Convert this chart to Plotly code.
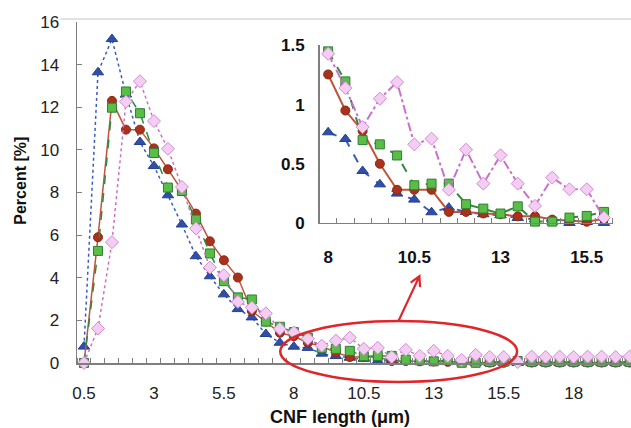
import math
import plotly.graph_objects as go

# ---------------- data ----------------
lengths = [0.5 + 0.5 * i for i in range(40)]  # CNF length categories (0.5 .. 20 µm)

blue_vals = [0.77, 13.64, 15.2, 12.6, 10.37, 9.24, 7.87, 6.5, 5.01, 4.07,
             3.22, 2.53, 2.14, 1.36, 0.95, 0.766, 0.709, 0.439, 0.326, 0.248,
             0.197, 0.09, 0.129, 0.093, 0.073, 0.065, 0.042, 0.03, 0.011, 0.0,
             0.008, 0.0, 0.0, 0.0, 0.0, 0.0, 0.0, 0.0, 0.0, 0.0]
red_vals = [0.0, 5.9, 12.3, 10.95, 10.95, 10.07, 9.09, 8.1, 7.01, 5.71,
            4.82, 4.01, 2.44, 1.95, 1.42, 1.255, 0.95, 0.777, 0.50, 0.28,
            0.28, 0.28, 0.093, 0.093, 0.08, 0.073, 0.056, 0.056, 0.028, 0.02,
            0.01, 0.036, 0.02, 0.02, 0.02, 0.02, 0.02, 0.02, 0.02, 0.02]
green_vals = [0.0, 5.26, 11.98, 12.74, 11.72, 9.85, 8.23, 8.07, 6.73, 5.14,
              3.84, 3.08, 2.98, 1.94, 1.70, 1.45, 1.196, 0.70, 0.664, 0.57,
              0.318, 0.332, 0.332, 0.158, 0.121, 0.079, 0.14, 0.011, 0.011, 0.045,
              0.059, 0.093, 0.05, 0.05, 0.05, 0.05, 0.05, 0.05, 0.05, 0.05]
pink_vals = [0.0, 1.62, 5.67, 12.26, 13.22, 11.35, 10.05, 8.26, 6.31, 4.48,
             4.12, 2.87, 2.6, 2.33, 1.6, 1.43, 1.14, 0.81, 1.05, 1.19,
             0.664, 0.712, 0.281, 0.619, 0.332, 0.571, 0.332, 0.144, 0.383, 0.284,
             0.284, 0.045, 0.3, 0.28, 0.3, 0.28, 0.3, 0.3, 0.28, 0.3]

main_ticks = [0.5, 3, 5.5, 8, 10.5, 13, 15.5, 18]
inset_ticks = [8, 10.5, 13, 15.5]
inset_yticks = [0, 0.5, 1, 1.5]
inset_lo, inset_hi = 8, 16

# ---------------- geometry helpers ----------------
W, H = 631, 428
ML, MR, MT, MB = 76.6, 0, 21.5, 65
PW = W - ML - MR
PH = H - MT - MB
PX_PER_UNIT = 28.0


def pxx(px):
    return (px - ML) / PW


def pxy(py):
    return (H - MB - py) / PH


FONT = "Liberation Sans, Arial, sans-serif"

series = [
    dict(name="blue", y=blue_vals, line="#3A5BC0",
         dash_main="dot", dash_inset="dash", symbol="triangle-up", size=10,
         fill="#2F4FA8", border="#24408F"),
    dict(name="red", y=red_vals, line="#C0553A",
         dash_main="solid", dash_inset="solid", symbol="circle", size=9,
         fill="#A8321C", border="#8E2812"),
    dict(name="green", y=green_vals, line="#2E8A3C",
         dash_main="dash", dash_inset="dash", symbol="square", size=9,
         fill="#59BE47", border="#2E7D32"),
    dict(name="pink", y=pink_vals, line="#CC6FCC",
         dash_main="dot", dash_inset="dashdot", symbol="diamond", size=10,
         fill="#F4CDF2", border="#D48AD4"),
]

fig = go.Figure()

for s in series:
    fig.add_trace(go.Scatter(
        x=lengths, y=s["y"], mode="lines+markers", name=s["name"],
        line=dict(color=s["line"], width=1.5, dash=s["dash_main"]),
        marker=dict(symbol=s["symbol"], size=s["size"], color=s["fill"],
                    line=dict(color=s["border"], width=1)),
        cliponaxis=False, showlegend=False, xaxis="x", yaxis="y"))

for s in series:
    xs = [x for x in lengths if inset_lo <= x <= inset_hi]
    ys = [v for x, v in zip(lengths, s["y"]) if inset_lo <= x <= inset_hi]
    fig.add_trace(go.Scatter(
        x=xs, y=ys, mode="lines+markers", name=s["name"],
        line=dict(color=s["line"], width=2, dash=s["dash_inset"]),
        marker=dict(symbol=s["symbol"], size=s["size"], color=s["fill"],
                    line=dict(color=s["border"], width=1)),
        cliponaxis=False, showlegend=False, xaxis="x2", yaxis="y2"))

axis_col = "#7f7f7f"

# inset geometry (pixels)
ix0, ix1 = 319.3, 612.6
iy0, iy1 = 222.7, 45.0
inset_range = [7.75, 7.75 + (ix1 - ix0) / 34.5]

fig.update_layout(
    width=W, height=H,
    margin=dict(l=ML, r=MR, t=MT, b=MB, pad=0),
    paper_bgcolor="white", plot_bgcolor="white",
    font=dict(family=FONT, color="#222"),
    xaxis=dict(range=[0.25, 0.25 + PW / PX_PER_UNIT],
               tickmode="array", tickvals=main_ticks,
               ticktext=[str(t) for t in main_ticks],
               ticks="", showline=True, linecolor=axis_col, linewidth=1.5,
               showgrid=False, zeroline=False,
               tickfont=dict(size=17, color="#222"),
               ticklabelstandoff=14,
               minor=dict(ticks="inside", ticklen=5, tickcolor=axis_col,
                          tickwidth=1, tickmode="linear", tick0=0.25, dtick=0.5,
                          showgrid=False)),
    yaxis=dict(range=[0, 16], tickmode="linear", tick0=0, dtick=2,
               ticks="inside", ticklen=5, tickcolor=axis_col,
               showline=True, linecolor=axis_col, linewidth=1.5,
               showgrid=False, zeroline=False,
               tickfont=dict(size=17, color="#222"),
               ticklabelstandoff=13),
    xaxis2=dict(domain=[pxx(ix0), pxx(ix1)], anchor="y2",
                range=inset_range, tickmode="array", tickvals=inset_ticks,
                ticktext=[str(t) for t in inset_ticks],
                ticks="", showline=True, linecolor=axis_col, linewidth=1.5,
                showgrid=False, zeroline=False,
                tickfont=dict(size=17, color="#111", weight="bold"),
                ticklabelstandoff=18,
                minor=dict(ticks="inside", ticklen=5, tickcolor=axis_col,
                           tickwidth=1, tickmode="linear", tick0=7.75, dtick=0.5,
                           showgrid=False)),
    yaxis2=dict(domain=[pxy(iy0), pxy(iy1)], anchor="x2",
                range=[0, 1.5], tickmode="array", tickvals=inset_yticks,
                ticktext=["0", "0.5", "1", "1.5"],
                ticks="", showline=True, linecolor=axis_col, linewidth=1.5,
                showgrid=False, zeroline=False,
                tickfont=dict(size=17, color="#111", weight="bold"),
                ticklabelstandoff=10),
)

# axis titles
fig.add_annotation(text="CNF length (μm)", xref="paper", yref="paper",
                   x=pxx(340), y=pxy(417), showarrow=False,
                   font=dict(size=18, family=FONT, color="#111", weight="bold"),
                   xanchor="center", yanchor="middle")
fig.add_annotation(text="Percent [%]", xref="paper", yref="paper",
                   x=pxx(20), y=pxy(180), showarrow=False, textangle=-90,
                   font=dict(size=16, family=FONT, color="#111", weight="bold"),
                   xanchor="center", yanchor="middle")

# light frame line at top
fig.add_shape(type="line", xref="paper", yref="paper",
              x0=pxx(60), x1=pxx(631), y0=pxy(18.5), y1=pxy(18.5),
              line=dict(color="#d9d9d9", width=1.5))

# red ellipse highlighting the zoomed region
red = "#E0252B"
fig.add_shape(type="circle", xref="paper", yref="paper",
              x0=pxx(280), x1=pxx(517), y0=pxy(382), y1=pxy(321),
              line=dict(color=red, width=2.5))

# arrow from ellipse to inset
tail = (398.3, 321.0)
tip = (419.3, 276.0)
dx, dy = tip[0] - tail[0], tip[1] - tail[1]
L = math.hypot(dx, dy)
ux, uy = dx / L, dy / L
hl, ang = 11, math.radians(28)


def rot(x, y, a):
    return x * math.cos(a) - y * math.sin(a), x * math.sin(a) + y * math.cos(a)


a1 = rot(-ux, -uy, ang)
a2 = rot(-ux, -uy, -ang)
h1 = (tip[0] + hl * a1[0], tip[1] + hl * a1[1])
h2 = (tip[0] + hl * a2[0], tip[1] + hl * a2[1])
path = (f"M {pxx(tail[0])},{pxy(tail[1])} L {pxx(tip[0])},{pxy(tip[1])} "
        f"M {pxx(h1[0])},{pxy(h1[1])} L {pxx(tip[0])},{pxy(tip[1])} "
        f"L {pxx(h2[0])},{pxy(h2[1])}")
fig.add_shape(type="path", xref="paper", yref="paper", path=path,
              line=dict(color=red, width=2.2))

fig.write_html(
    "out.html",
    config={"displayModeBar": False, "staticPlot": True},
    post_script="document.body.style.margin='0';document.body.style.padding='0';"
                "document.documentElement.style.overflow='hidden';",
)
